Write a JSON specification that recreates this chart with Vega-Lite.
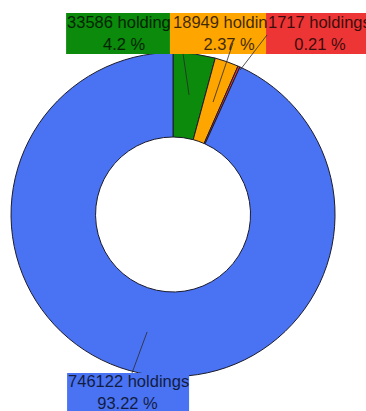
{
  "$schema": "https://vega.github.io/schema/vega-lite/v6.json",
  "width": 366,
  "height": 411,
  "autosize": {"type": "none"},
  "padding": 0,
  "background": "white",
  "config": {"view": {"stroke": null}},
  "datasets": {
    "slices": [
      {"cat": "A", "holdings": 33586, "ord": 1},
      {"cat": "B", "holdings": 18949, "ord": 2},
      {"cat": "C", "holdings": 1717, "ord": 3},
      {"cat": "D", "holdings": 746122, "ord": 4}
    ],
    "labels": [
      {"cat": "A", "line1": "33586 holdings", "line2": "4.2 %", "bx": -0.66, "bx2": -0.019, "by": 1.244, "by2": 0.991, "tx": -0.654, "cx": -0.302, "y1": 1.151, "y2": 1.015, "lx": 0.099, "ly": 0.738, "lx2": 0.062, "ly2": 0.991},
      {"cat": "B", "line1": "18949 holdings", "line2": "2.37 %", "bx": -0.019, "bx2": 0.574, "by": 1.244, "by2": 0.991, "tx": 0.0, "cx": 0.346, "y1": 1.151, "y2": 1.015, "lx": 0.247, "ly": 0.694, "lx2": 0.37, "ly2": 1.059},
      {"cat": "C", "line1": "1717 holdings", "line2": "0.21 %", "bx": 0.574, "bx2": 1.25, "by": 1.244, "by2": 0.991, "tx": 0.586, "cx": 0.907, "y1": 1.151, "y2": 1.015, "lx": 0.414, "ly": 0.892, "lx2": 0.58, "ly2": 1.108},
      {"cat": "D", "line1": "746122 holdings", "line2": "93.22 %", "bx": -0.654, "bx2": 0.099, "by": -0.978, "by2": -1.3, "tx": -0.648, "cx": -0.281, "y1": -1.065, "y2": -1.201, "lx": -0.16, "ly": -0.725, "lx2": -0.253, "ly2": -0.978}
    ]
  },
  "layer": [
    {
      "data": {"name": "slices"},
      "mark": {"type": "arc", "outerRadius": 162, "innerRadius": 77.5, "stroke": "#1b1b2b", "strokeWidth": 1},
      "encoding": {
        "x": {"datum": 0, "type": "quantitative", "scale": {"domain": [-1.068, 1.191], "nice": false, "zero": false}, "axis": null},
        "y": {"datum": 0, "type": "quantitative", "scale": {"domain": [-1.213, 1.324], "nice": false, "zero": false}, "axis": null},
        "theta": {"field": "holdings", "type": "quantitative", "stack": true},
        "order": {"field": "ord", "type": "quantitative"},
        "color": {"field": "cat", "type": "nominal", "scale": {"domain": ["A", "B", "C", "D"], "range": ["#0b8a0b", "#ffa500", "#ee3535", "#4a73f4"]}, "legend": null}
      }
    },
    {
      "data": {"name": "labels"},
      "mark": {"type": "rect", "clip": false},
      "encoding": {
        "x": {"field": "bx", "type": "quantitative"},
        "x2": {"field": "bx2"},
        "y": {"field": "by", "type": "quantitative"},
        "y2": {"field": "by2"},
        "color": {"field": "cat", "type": "nominal", "legend": null}
      }
    },
    {
      "data": {"name": "labels"},
      "mark": {"type": "rule", "color": "#2a2a2a", "strokeWidth": 0.8},
      "encoding": {
        "x": {"field": "lx", "type": "quantitative"},
        "x2": {"field": "lx2"},
        "y": {"field": "ly", "type": "quantitative"},
        "y2": {"field": "ly2"}
      }
    },
    {
      "data": {"name": "labels"},
      "mark": {"type": "text", "align": "left", "baseline": "alphabetic", "font": "Liberation Sans", "fontSize": 16.5, "color": "#000", "opacity": 0.75, "ellipsis": "\u200b", "limit": {"expr": "scale('x', datum.bx2) - scale('x', datum.bx) + 2"}},
      "encoding": {
        "x": {"field": "tx", "type": "quantitative"},
        "y": {"field": "y1", "type": "quantitative"},
        "text": {"field": "line1"}
      }
    },
    {
      "data": {"name": "labels"},
      "mark": {"type": "text", "align": "center", "baseline": "alphabetic", "font": "Liberation Sans", "fontSize": 16.5, "color": "#000", "opacity": 0.75},
      "encoding": {
        "x": {"field": "cx", "type": "quantitative"},
        "y": {"field": "y2", "type": "quantitative"},
        "text": {"field": "line2"}
      }
    }
  ]
}
